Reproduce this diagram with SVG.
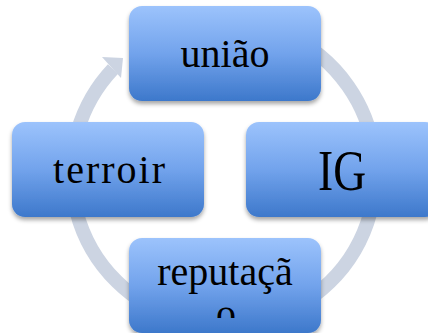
<svg xmlns="http://www.w3.org/2000/svg" width="428" height="333" viewBox="0 0 428 333">
  <defs>
    <linearGradient id="boxFill" x1="0" y1="0" x2="0" y2="1">
      <stop offset="0" stop-color="#9cc3fc"/>
      <stop offset="0.5" stop-color="#72a3ec"/>
      <stop offset="1" stop-color="#3d78cb"/>
    </linearGradient>
    <filter id="shadow" x="-10%" y="-10%" width="130%" height="140%">
      <feDropShadow dx="0" dy="3" stdDeviation="2.2" flood-color="#000" flood-opacity="0.35"/>
    </filter>
    <clipPath id="repClip">
      <rect x="129" y="238" width="192" height="80"/>
    </clipPath>
  </defs>
  <style>
    .box { fill: url(#boxFill); filter: url(#shadow); }
    .label { font-family: "Liberation Serif", "Times New Roman", serif; font-size: 40px; fill: #000; text-anchor: middle; }
    .ring { fill: none; stroke: #ccd4e2; stroke-width: 14; }
    .head { fill: #ccd4e2; }
  </style>

  <!-- circular cycle arrow -->
  <g id="connectors">
    <path class="ring" d="M 139 47 A 152 152 0 1 1 113 69"/>
    <polygon class="head" points="123,58 102,57 121,78"/>
  </g>

  <g id="node-uniao">
    <rect class="box" x="129" y="6" width="192" height="95" rx="13"/>
    <text class="label" x="225" y="67">união</text>
  </g>

  <g id="node-terroir">
    <rect class="box" x="12" y="122" width="192" height="95" rx="13"/>
    <text class="label" x="109" y="183" textLength="112" lengthAdjust="spacing">terroir</text>
  </g>

  <g id="node-ig">
    <rect class="box" x="246" y="122" width="192" height="95" rx="13"/>
    <text class="label" x="342" y="190" style="font-size:56px" textLength="48" lengthAdjust="spacingAndGlyphs">IG</text>
  </g>

  <g id="node-reputacao">
    <rect class="box" x="129" y="238" width="192" height="95" rx="13"/>
    <g clip-path="url(#repClip)">
      <text class="label" x="225" y="285">reputaçã</text>
      <text class="label" x="226" y="327">o</text>
    </g>
  </g>
</svg>
